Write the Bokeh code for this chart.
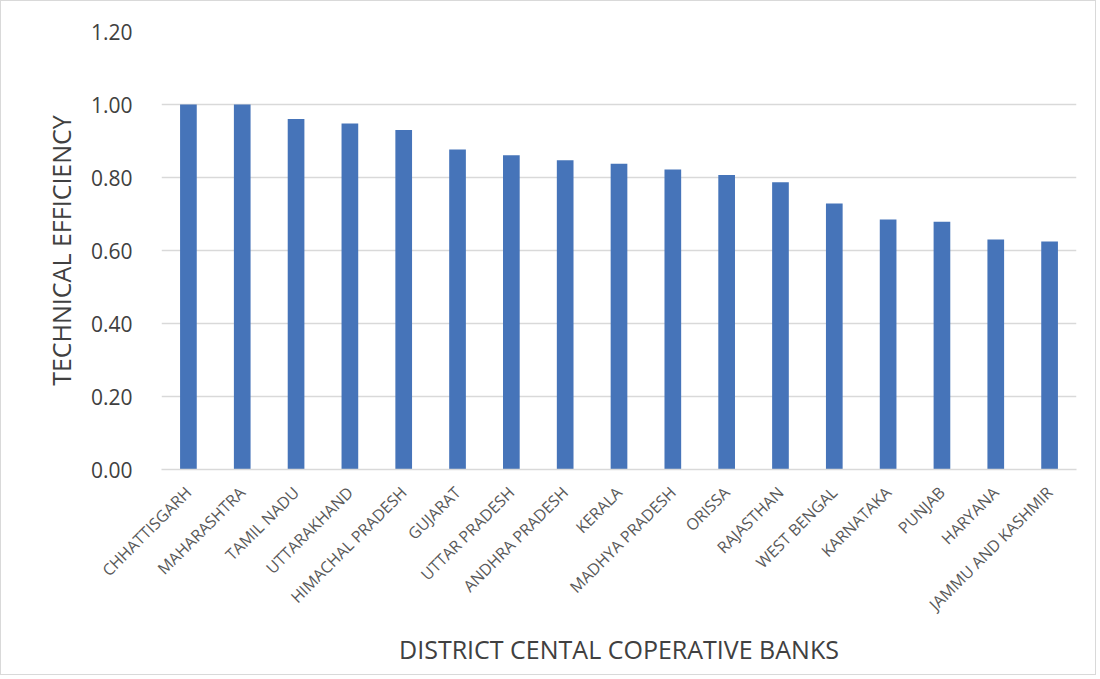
import math
from bokeh.plotting import figure
from bokeh.models import ColumnDataSource, FixedTicker, CustomJSTickFormatter
from bokeh.embed import file_html
from bokeh.resources import INLINE

states = ["CHHATTISGARH", "MAHARASHTRA", "TAMIL NADU", "UTTARAKHAND", "HIMACHAL PRADESH",
          "GUJARAT", "UTTAR PRADESH", "ANDHRA PRADESH", "KERALA", "MADHYA PRADESH",
          "ORISSA", "RAJASTHAN", "WEST BENGAL", "KARNATAKA", "PUNJAB", "HARYANA",
          "JAMMU AND KASHMIR"]
efficiency = [1.00, 1.00, 0.960, 0.948, 0.930, 0.877, 0.861, 0.847, 0.838, 0.822,
              0.807, 0.787, 0.729, 0.685, 0.679, 0.630, 0.625]
y_ticks = [0.0, 0.2, 0.4, 0.6, 0.8, 1.0, 1.2]

FONT = "Open Sans"
GREY = "#595959"
DARK = "#404040"

src = ColumnDataSource(data=dict(state=states, eff=efficiency))

p = figure(x_range=states, y_range=(0, 1.2), width=1096, height=675,
           output_backend="svg", toolbar_location=None,
           min_border_left=160, min_border_right=21, min_border_top=30, min_border_bottom=207)

p.vbar(x="state", top="eff", width=0.31, source=src, fill_color="#4674B9", line_color=None)

p.yaxis.ticker = FixedTicker(ticks=y_ticks)
p.yaxis.formatter = CustomJSTickFormatter(code="return tick.toFixed(2);")
p.yaxis.axis_line_color = None
p.yaxis.major_tick_line_color = None
p.yaxis.minor_tick_line_color = None
p.yaxis.major_label_text_font = FONT
p.yaxis.major_label_text_font_size = "21px"
p.yaxis.major_label_text_color = DARK
p.yaxis.major_label_standoff = 23
p.yaxis.axis_label = "TECHNICAL EFFICIENCY"
p.yaxis.axis_label_text_font = FONT
p.yaxis.axis_label_text_font_size = "25px"
p.yaxis.axis_label_text_font_style = "normal"
p.yaxis.axis_label_text_color = DARK
p.yaxis.axis_label_standoff = 10

p.xaxis.axis_line_color = "#d9d9d9"
p.xaxis.axis_line_width = 1.5
p.xaxis.major_tick_line_color = None
p.xaxis.minor_tick_line_color = None
p.xaxis.major_label_orientation = math.pi / 4
p.xaxis.major_label_text_font = FONT
p.xaxis.major_label_text_font_size = "16px"
p.xaxis.major_label_text_color = GREY
p.xaxis.major_label_standoff = 14
p.xaxis.axis_label = "DISTRICT CENTAL COPERATIVE BANKS"
p.xaxis.axis_label_text_font = FONT
p.xaxis.axis_label_text_font_size = "25px"
p.xaxis.axis_label_text_font_style = "normal"
p.xaxis.axis_label_text_color = DARK
p.xaxis.axis_label_standoff = 6

p.xgrid.grid_line_color = None
p.ygrid.grid_line_color = "#d9d9d9"
p.ygrid.grid_line_width = 1.5
p.outline_line_color = None
p.background_fill_color = "white"
p.border_fill_color = "white"
p.styles = {"border": "1px solid #d9d9d9"}

open("out.html", "w").write(file_html(p, INLINE))
